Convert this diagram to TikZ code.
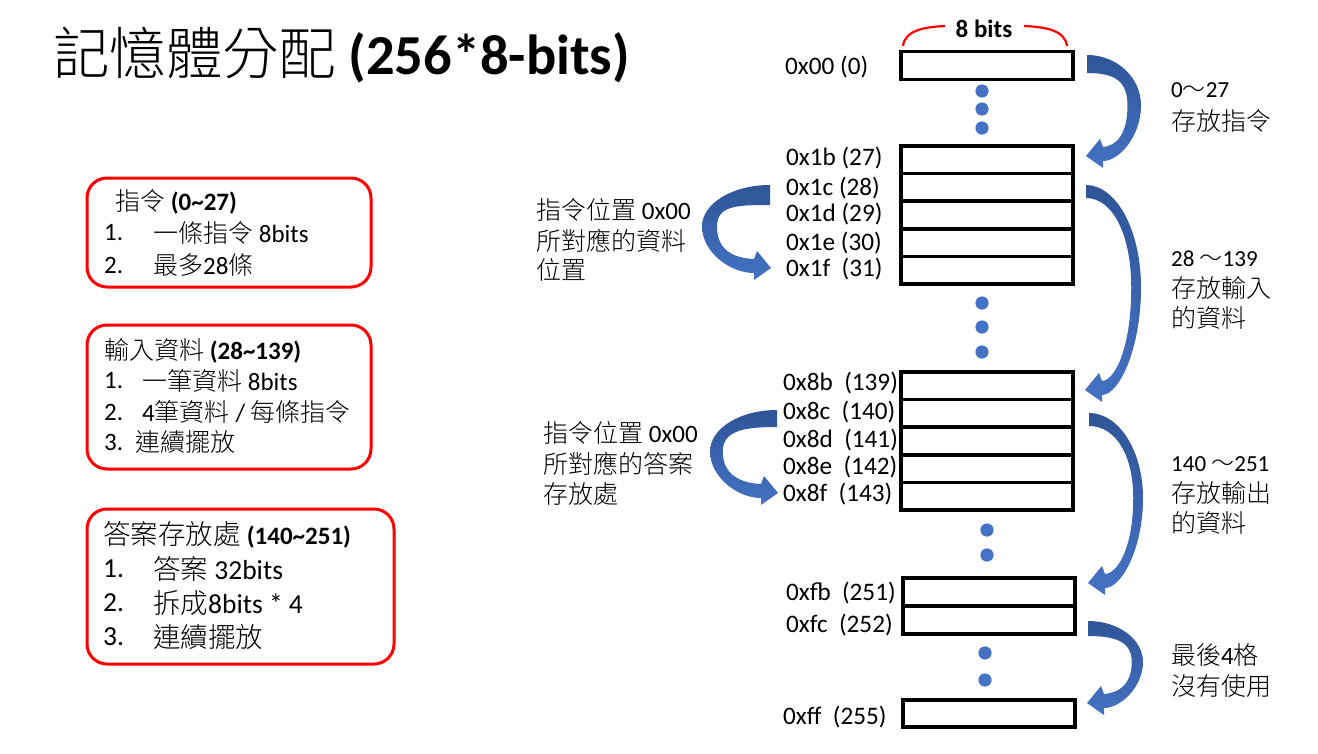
\documentclass[tikz,border=0pt]{standalone}
\usepackage{fontspec}
\setmainfont{Carlito}
\IfFontExistsTF{Noto Sans CJK TC Light}
  {\newfontfamily\cjk{Noto Sans CJK TC Light}}
  {\newfontfamily\cjk{Noto Sans CJK TC}}
\newcommand\zh[1]{{\cjk #1}}
\newcommand\fs[1]{\fontsize{#1}{#1}\selectfont}
\definecolor{dblue}{HTML}{2F5597}
\definecolor{lblue}{HTML}{4472C4}
\definecolor{pred}{HTML}{FF0000}
% #1 tail x, #2 tail top y, #3 height to tip, #4 bulge width, #5 tail thickness, #6 direction (1 right, -1 left)
\newcommand\bluearrow[6]{%
 \begin{scope}[shift={(#1,#2)},xscale=#6]
 \shade[top color=dblue,bottom color=lblue]
 (0,0) .. controls ({0.55*#4},0) and (#4,{0.22*#3}) .. (#4,{0.5*#3})
 .. controls (#4,{0.8*#3}) and ({0.6*#4},{#3+5}) .. (16,{#3+5})
 -- (16,{#3+12}) -- (-1,#3) -- (13,{#3-17}) -- (16,{#3-9})
 .. controls ({0.55*#4},{#3-10}) and ({#4-0.75*#5},{0.78*#3}) .. ({#4-0.75*#5},{0.5*#3})
 .. controls ({#4-0.75*#5},{0.25*#3}) and ({0.5*#4},#5) .. (0,#5) -- cycle;
 \end{scope}}
\begin{document}
\begin{tikzpicture}[x=1pt,y=-1pt,
 cell/.style={draw=black, line width=3.5pt, minimum width=172pt, minimum height=#1, inner sep=0pt, outer sep=0pt},
 cell/.default=27.6pt,
 rbox/.style={draw=pred, line width=3pt, rounded corners=20pt, inner sep=0pt},
 addr/.style={anchor=west, inner sep=0pt, font=\fs{25.2}},
 txt/.style={anchor=west, inner sep=0pt, font=\fs{25}},
 btxt/.style={anchor=west, inner sep=0pt, font=\fs{27.5}},
 small/.style={anchor=west, inner sep=0pt, font=\fs{23}},
 dot/.style={fill=lblue}
 ]
\fill[white] (0,0) rectangle (1318,753);
\useasboundingbox (0,0) rectangle (1318,753);

% title
\node[anchor=west, inner sep=0pt, font=\fs{56.5}] (title) at (53,55) {\zh{記憶體分配} \textbf{(256*8-bits)}};

% 8 bits bracket
\node[inner sep=0pt, font=\fs{25}\bfseries] (bits) at (984,29) {8 bits};
\draw[pred, line width=2.2pt] (903,46) .. controls (905,30) and (925,27) .. (945,26);
\draw[pred, line width=2.2pt] (1067,46) .. controls (1065,30) and (1045,27) .. (1024,26);

% memory cells
\node[cell] (m00) at (987,65.5) {};
\node[cell] (m1b) at (987,159.8) {};
\node[cell] (m1c) at (987,187.4) {};
\node[cell] (m1d) at (987,215) {};
\node[cell] (m1e) at (987,242.6) {};
\node[cell] (m1f) at (987,270.2) {};
\node[cell] (m8b) at (987,385.8) {};
\node[cell] (m8c) at (987,413.4) {};
\node[cell] (m8d) at (987,441) {};
\node[cell] (m8e) at (987,468.6) {};
\node[cell] (m8f) at (987,496.2) {};
\node[cell=28pt] (mfb) at (989,592) {};
\node[cell=28pt] (mfc) at (989,620) {};
\node[cell=27pt] (mff) at (989,713.5) {};

% dots
\foreach \x/\y in {982/91,982/109,982/128,982/303,982/327,982/352,987/530,987/555,985/653,985/680}
  \fill[dot] (\x,\y) circle (6.6);

% address labels
\node[addr] (l00) at (785,67) {0x00 (0)};
\node[addr] (l1b) at (786,158) {0x1b (27)};
\node[addr] (l1c) at (786,188) {0x1c (28)};
\node[addr] (l1d) at (786,214) {0x1d (29)};
\node[addr] (l1e) at (786,243) {0x1e (30)};
\node[addr] (l1f) at (786,269) {0x1f\ \ (31)};
\node[addr] (l8b) at (783,383) {0x8b\ \ (139)};
\node[addr] (l8c) at (783,412) {0x8c\ \ (140)};
\node[addr] (l8d) at (783,440) {0x8d\ \ (141)};
\node[addr] (l8e) at (783,467) {0x8e\ \ (142)};
\node[addr] (l8f) at (783,494) {0x8f\ \ (143)};
\node[addr] (lfb) at (786,593) {0xfb\ \ (251)};
\node[addr] (lfc) at (786,625) {0xfc\ \ (252)};
\node[addr] (lff) at (783,717) {0xff\ \ (255)};

% blue curved arrows
\bluearrow{1087}{55}{101}{54}{18}{1}
\bluearrow{1086}{185}{205}{55}{13}{1}
\bluearrow{1089}{413}{170}{54}{13}{1}
\bluearrow{1088}{621}{82}{55}{15}{1}
\bluearrow{770}{185}{83}{68}{20}{-1}
\bluearrow{777}{410}{83}{67}{17}{-1}

% right texts
\node[small] (r1a) at (1171,90) {0\zh{～}27};
\node[txt] (r1b) at (1171,121) {\zh{存放指令}};
\node[small] (r2a) at (1171,259) {28 \zh{～}139};
\node[txt] (r2b) at (1171,288) {\zh{存放輸入}};
\node[txt] (r2c) at (1171,318) {\zh{的資料}};
\node[small] (r3a) at (1171,464) {140 \zh{～}251};
\node[txt] (r3b) at (1171,493) {\zh{存放輸出}};
\node[txt] (r3c) at (1171,523) {\zh{的資料}};
\node[txt] (r4a) at (1171,655) {\zh{最後}4\zh{格}};
\node[txt] (r4b) at (1171,686) {\zh{沒有使用}};

% middle texts
\node[txt] (ma1) at (536,210) {\zh{指令位置} 0x00};
\node[txt] (ma2) at (536,241) {\zh{所對應的資料}};
\node[txt] (ma3) at (536,270) {\zh{位置}};
\node[txt] (mb1) at (543,433) {\zh{指令位置} 0x00};
\node[txt] (mb2) at (543,464) {\zh{所對應的答案}};
\node[txt] (mb3) at (543,494) {\zh{存放處}};

% left boxes
\node[rbox, minimum width=284pt, minimum height=109pt] (box1) at (229,232.5) {};
\node[rbox, minimum width=284pt, minimum height=144pt] (box2) at (229,397) {};
\node[rbox, minimum width=307pt, minimum height=155pt] (box3) at (240.5,586.5) {};

\node[txt] (b1h) at (115,202) {\zh{指令} \textbf{(0\textasciitilde27)}};
\node[txt] (b1n1) at (104,233) {1.};
\node[txt] (b1t1) at (153,233) {\zh{一條指令} 8bits};
\node[txt] (b1n2) at (104,265) {2.};
\node[txt] (b1t2) at (153,265) {\zh{最多}28\zh{條}};

\node[txt] (b2h) at (104,351) {\zh{輸入資料} \textbf{(28\textasciitilde139)}};
\node[txt] (b2n1) at (104,381) {1.};
\node[txt] (b2t1) at (142,381) {\zh{一筆資料} 8bits};
\node[txt] (b2n2) at (104,412) {2.};
\node[txt] (b2t2) at (142,412) {4\zh{筆資料} / \zh{每條指令}};
\node[txt] (b2n3) at (104,442) {3.};
\node[txt] (b2t3) at (135,442) {\zh{連續擺放}};

\node[btxt] (b3h) at (103,535) {\zh{答案存放處} {\fs{25}\textbf{(140\textasciitilde251)}}};
\node[btxt] (b3n1) at (103,569) {1.};
\node[btxt] (b3t1) at (153,569) {\zh{答案} 32bits};
\node[btxt] (b3n2) at (103,603) {2.};
\node[btxt] (b3t2) at (153,603) {\zh{拆成}8bits * 4};
\node[btxt] (b3n3) at (103,637) {3.};
\node[btxt] (b3t3) at (153,637) {\zh{連續擺放}};
\end{tikzpicture}
\end{document}
